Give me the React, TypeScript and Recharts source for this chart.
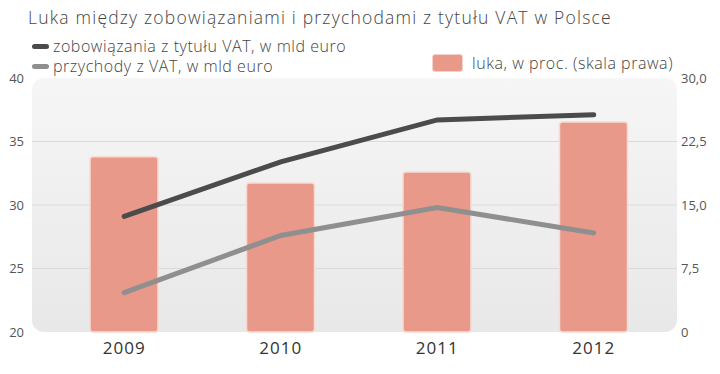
import React from 'react';
import { ComposedChart, Bar, Line, XAxis, YAxis, CartesianGrid } from 'recharts';

const years = ['2009', '2010', '2011', '2012'];
const liabilities = [29.1, 33.4, 36.7, 37.1];
const revenues = [23.1, 27.6, 29.8, 27.8];
const gapPct = [20.7, 17.6, 18.9, 24.8];
const leftTicks = [20, 25, 30, 35, 40];
const rightTicks = [0, 7.5, 15, 22.5, 30];

const data = years.map((year, i) => ({
    year,
    liabilities: liabilities[i],
    revenues: revenues[i],
    gap: gapPct[i],
}));

const FONT = '"Open Sans", "Noto Sans", sans-serif';
const DARK = '#4b4b4b';
const LIGHT = '#8f8f8f';
const BAR = '#e8998a';

const fmtRight = (v: number) => (v === 0 ? '0' : v.toFixed(1).replace('.', ','));

const legendText: React.CSSProperties = {
    position: 'absolute',
    fontSize: 16,
    fontWeight: 300,
    color: '#444',
    whiteSpace: 'nowrap',
    lineHeight: '22px',
    letterSpacing: 0.55,
};

export default function App() {
    return (
        <div style={{ position: 'fixed', left: 0, top: 0, width: 720, height: 374, background: '#fff', fontFamily: FONT }}>
            <div style={{ position: 'absolute', left: 28, top: 5, fontSize: 17.5, fontWeight: 300, color: '#444', whiteSpace: 'nowrap', lineHeight: '24px', letterSpacing: 1.2 }}>
                Luka między zobowiązaniami i przychodami z tytułu VAT w Polsce
            </div>
            <div style={{ position: 'absolute', left: 32, top: 44, width: 17, height: 5, borderRadius: 3, background: DARK }} />
            <div style={{ ...legendText, left: 53, top: 35 }}>zobowiązania z tytułu VAT, w mld euro</div>
            <div style={{ position: 'absolute', left: 32, top: 64, width: 17, height: 5, borderRadius: 3, background: LIGHT }} />
            <div style={{ ...legendText, left: 53, top: 55 }}>przychody z VAT, w mld euro</div>
            <div style={{ position: 'absolute', left: 432, top: 54, width: 31, height: 18, borderRadius: 3, background: BAR, border: '1px solid #f3d3ca', boxSizing: 'border-box' }} />
            <div style={{ ...legendText, left: 472, top: 52 }}>luka, w proc. (skala prawa)</div>
            {/* plot background */}
            <div style={{ position: 'absolute', left: 32, top: 78, width: 645, height: 254, borderRadius: 12, background: 'linear-gradient(#f6f6f6, #e8e8e9)' }} />
            <div style={{ position: 'absolute', left: 0, top: 0 }}>
                <ComposedChart width={720} height={374} data={data} margin={{ top: 78, right: 0, bottom: 0, left: 0 }}>
                    <CartesianGrid yAxisId="left" vertical={false} horizontal stroke="#dadada" strokeWidth={1} horizontalValues={[25, 30, 35]} />
                    <XAxis
                        dataKey="year"
                        height={42}
                        axisLine={false}
                        tickLine={false}
                        tickSize={6}
                        tickMargin={4}
                        padding={{ left: 14, right: 5 }}
                        tick={{ fill: '#333', fontSize: 17, fontFamily: FONT, fontWeight: 500, letterSpacing: 1 }}
                    />
                    <YAxis
                        yAxisId="left"
                        width={32}
                        domain={[20, 40]}
                        ticks={leftTicks}
                        axisLine={false}
                        tickLine={false}
                        tick={{ fill: '#555', fontSize: 13, fontFamily: FONT }}
                    />
                    <YAxis
                        yAxisId="right"
                        orientation="right"
                        width={43}
                        domain={[0, 30]}
                        ticks={rightTicks}
                        tickFormatter={fmtRight}
                        axisLine={false}
                        tickLine={false}
                        tickSize={4}
                        tickMargin={0}
                        tick={{ fill: '#555', fontSize: 13, fontFamily: FONT }}
                    />
                    <Bar yAxisId="right" dataKey="gap" barSize={68} fill={BAR} stroke="#f5dbd3" strokeWidth={1.5} radius={3} isAnimationActive={false} />
                    <Line yAxisId="left" type="linear" dataKey="liabilities" stroke={DARK} strokeWidth={5} strokeLinecap="round" dot={false} activeDot={false} isAnimationActive={false} />
                    <Line yAxisId="left" type="linear" dataKey="revenues" stroke={LIGHT} strokeWidth={5} strokeLinecap="round" dot={false} activeDot={false} isAnimationActive={false} />
                </ComposedChart>
            </div>
        </div>
    );
}
